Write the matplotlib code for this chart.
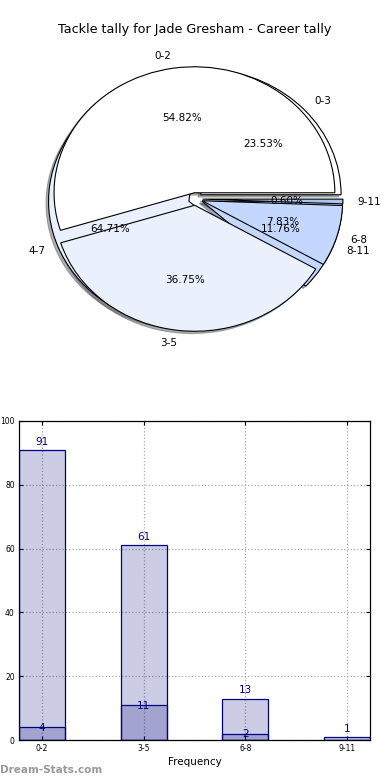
import matplotlib
matplotlib.use("Agg")
import matplotlib.pyplot as plt

# ---- data ----
title = "Tackle tally for Jade Gresham - Career tally"
cats_main = ["0-2", "3-5", "6-8", "9-11"]
vals_main = [91, 61, 13, 1]
cats_sub = ["0-3", "4-7", "8-11"]
vals_sub = [4, 11, 2]
bar_labels = ["0-2", "3-5", "6-8", "9-11"]
bar_total = [91, 61, 13, 1]
bar_sub = [4, 11, 2, 0]

pie_colors_main = ["#ffffff", "#eaf1fd", "#c4d8ff", "#a9c4f5"]
pie_colors_sub = ["#ffffff", "#eaf1fd", "#c4d8ff"]

fig = plt.figure(figsize=(3.9, 7.8), dpi=100)
fig.patch.set_facecolor("white")

# ---- pie ----
axp = fig.add_axes([20 / 390, 1 - 356.5 / 780, 351 / 390, 315 / 780])
wp = dict(edgecolor="black", linewidth=0.8)
tp = dict(fontsize=7.5)
sh = dict(ox=-0.013, oy=-0.013, shade=0.6)
axp.pie(vals_sub, labels=cats_sub, colors=pie_colors_sub, explode=[0.05] * 3,
        autopct="%.2f%%", shadow=sh, startangle=0, wedgeprops=wp, textprops=tp)
axp.pie(vals_main, labels=cats_main, colors=pie_colors_main, explode=[0.05] * 4,
        autopct="%.2f%%", shadow=sh, startangle=0, wedgeprops=wp, textprops=tp)
axp.set_aspect("auto")
axp.set_xlim(-1.25, 1.25)
axp.set_ylim(-1.25, 1.25)
fig.text(0.5, 1 - 30 / 780, title, ha="center", va="center", fontsize=9.2)

# ---- bars ----
axb = fig.add_axes([19 / 390, 40 / 780, 351 / 390, 319 / 780])
x = list(range(len(bar_labels)))
w = 0.45
fc = (0, 0, 0.5, 0.2)
axb.bar(x, bar_total, width=w, color=fc, edgecolor="navy", linewidth=0.9, zorder=2)
axb.bar(x, bar_sub, width=w, color=fc, edgecolor="navy", linewidth=0.9, zorder=3)
for xi, v in zip(x, bar_total):
    axb.text(xi, v + 1, str(v), ha="center", va="bottom", color="navy", fontsize=7.5, zorder=4)
for xi, v in zip(x, bar_sub):
    if v > 0:
        axb.text(xi, v - 1.8, str(v), ha="center", va="bottom", color="navy", fontsize=7.5, zorder=4)
axb.set_xlim(-w / 2, len(x) - 1 + w / 2)
axb.set_ylim(0, 100)
axb.set_xticks(x)
axb.set_xticklabels(bar_labels)
axb.set_yticks([0, 20, 40, 60, 80, 100])
axb.tick_params(labelsize=5.5, direction="in", length=3, top=True, right=True, pad=3)
axb.grid(True, linestyle=":", color="#aaaaaa", linewidth=0.9, zorder=1)
axb.set_axisbelow(True)
axb.set_xlabel("Frequency", fontsize=7.5, labelpad=3)
for s in axb.spines.values():
    s.set_linewidth(0.9)

fig.text(0.0, 1 - 770 / 780, "Dream-Stats.com", ha="left", va="center",
         fontsize=7.5, color="#999999", fontweight="bold")

fig.savefig("out.png", dpi=100, facecolor="white")
